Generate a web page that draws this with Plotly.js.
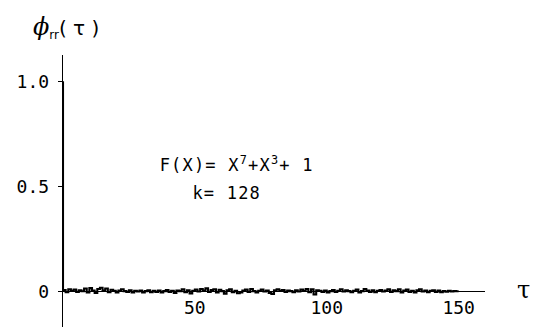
<!DOCTYPE html>
<html>
<head>
<meta charset="utf-8">
<script src="https://cdn.plot.ly/plotly-3.0.1.min.js"></script>
<style>html,body{margin:0;padding:0;background:#fff;}#chart{width:540px;height:327px;}</style>
</head>
<body>
<div id="chart"></div>
<script>
// lag tau = 0..150
const tau = [];
for (let i = 0; i <= 150; i++) tau.push(i);
// autocorrelation values (units of 0.001 after the spike)
const phiMilli = [1000,
  6,-4,10,2,8,-3,5,0,13,-5,15,3,-8,11,17,4,13,-4,7,2,-6,4,10,1,-3,5,-5,2,-1,4,-6,1,5,-4,2,-3,4,
  -5,1,6,-3,2,-8,4,1,10,-4,5,-10,2,8,-1,11,3,14,-3,6,10,-5,7,1,-11,5,9,-4,2,-9,-6,4,8,-3,11,1,
  -5,2,8,-1,4,-8,-13,5,10,2,6,-3,4,1,-4,5,-1,8,2,11,-4,9,-15,5,2,-3,4,-5,1,6,-3,2,10,-1,5,1,
  -4,2,8,-5,1,11,3,-3,5,-4,2,6,-1,4,9,-3,5,1,10,-5,4,8,-3,2,-6,5,9,-1,4,-4,2,
  5,-3,4,-4,1,-2,2,-1,1,0];
const phi = phiMilli.map(v => v / 1000);
const yTickVals = [0, 0.5, 1.0];
const yTickText = ['0', '0.5', '1.0'];
const xTickVals = [50, 100, 150];
const xTickText = ['50', '100', '150'];

const mono = 'DejaVu Sans Mono, Liberation Mono, monospace';

const trace = {
  x: tau, y: phi, type: 'scatter', mode: 'lines',
  line: {color: '#000', width: 2.1, shape: 'vh'}, hoverinfo: 'skip'
};

const yMin = -0.17, yMax = 1.125;
const layout = {
  width: 540, height: 327,
  margin: {l: 63, r: 55, t: 55, b: 0},
  paper_bgcolor: '#fff', plot_bgcolor: '#fff',
  showlegend: false,
  xaxis: {
    range: [0, 160], showgrid: false, zeroline: false, showline: false,
    tickvals: xTickVals, ticktext: xTickText, ticks: '',
    anchor: 'free', position: (0 - yMin) / (yMax - yMin),
    ticklabelstandoff: 4,
    tickfont: {family: mono, size: 18, color: '#000'}
  },
  yaxis: {
    range: [yMin, yMax], showgrid: false,
    zeroline: true, zerolinecolor: '#000', zerolinewidth: 1.3,
    showline: true, linecolor: '#000', linewidth: 1.3,
    tickvals: yTickVals, ticktext: yTickText,
    ticks: 'outside', ticklen: 4, tickcolor: '#000', tickwidth: 1,
    ticklabelstandoff: 5,
    tickfont: {family: mono, size: 18, color: '#000'}
  },
  annotations: [
    {xref: 'paper', yref: 'paper', x: -0.075, y: 1.10, xanchor: 'left', yanchor: 'middle',
     text: '<span style="font-size:24px;font-family:DejaVu Serif;font-style:italic">ϕ</span><sub>rr</sub><span style="font-size:20px">( τ )</span>',
     showarrow: false, font: {family: 'DejaVu Sans', size: 17, color: '#000'}},
    {xref: 'paper', yref: 'paper', x: 1.092, y: 0.136, xanchor: 'center', yanchor: 'middle',
     text: 'τ', showarrow: false, font: {family: 'DejaVu Serif', size: 24, color: '#000'}},
    {xref: 'x', yref: 'y', x: 65.6, y: 0.607, xanchor: 'center', yanchor: 'middle',
     text: 'F(X)= X<sup>7</sup>+X<sup>3</sup>+ 1', showarrow: false,
     font: {family: mono, size: 17, color: '#000'}},
    {xref: 'x', yref: 'y', x: 61.8, y: 0.467, xanchor: 'center', yanchor: 'middle',
     text: 'k= 128', showarrow: false,
     font: {family: mono, size: 17, color: '#000'}}
  ]
};

Plotly.newPlot('chart', [trace], layout, {staticPlot: true, displayModeBar: false}).then(function () {
  document.querySelectorAll('.annotation-text').forEach(function (t, i) {
    if (i >= 2) t.style.letterSpacing = '1.2px';
  });
});
</script>
</body>
</html>
